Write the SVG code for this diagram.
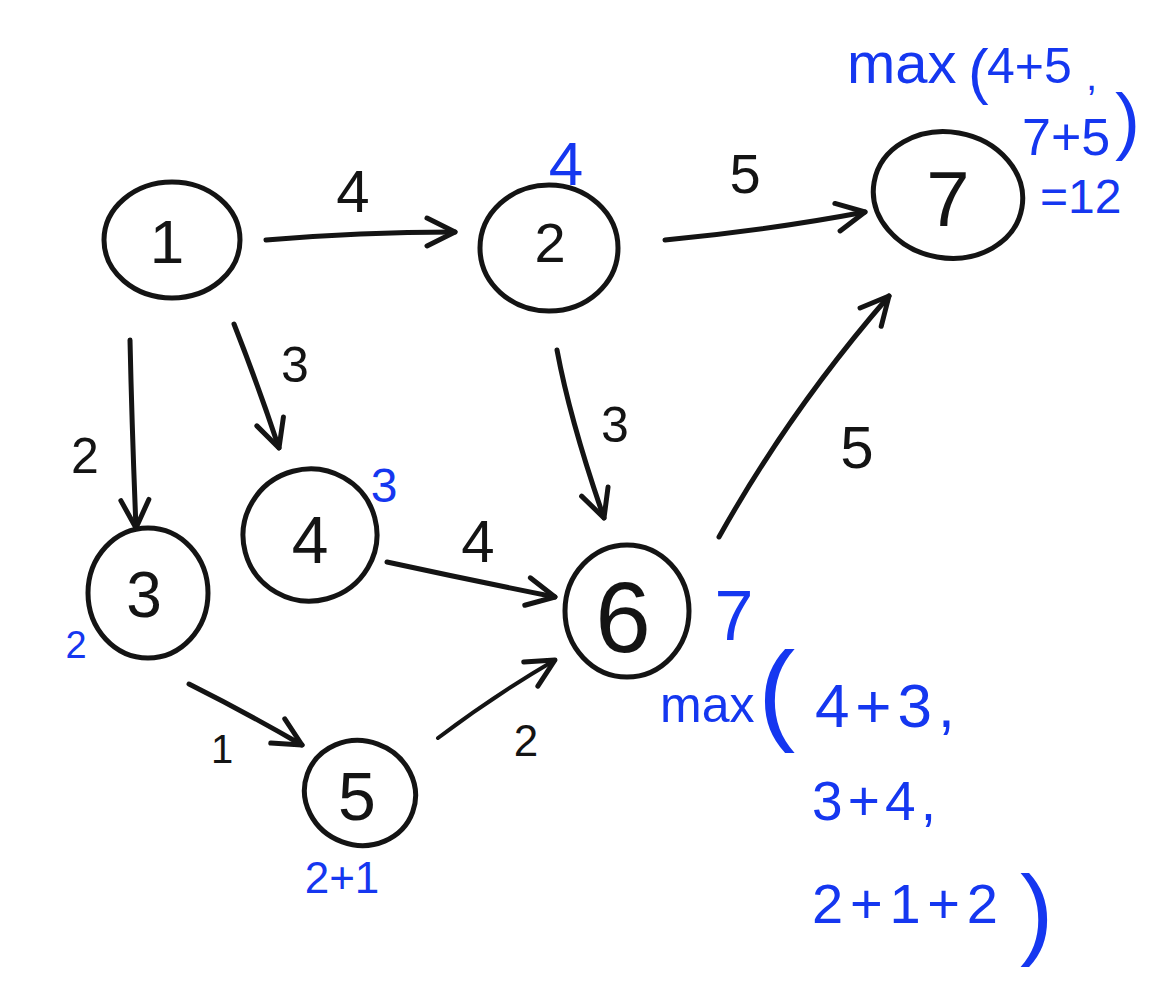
<svg xmlns="http://www.w3.org/2000/svg" width="1167" height="1004" viewBox="0 0 1167 1004">
<style>
.node{fill:none;stroke:#141414;stroke-width:5}
.edge{fill:none;stroke:#141414;stroke-width:5;stroke-linecap:round}
.t{font-family:"Liberation Sans",Arial,sans-serif;fill:#141414;text-anchor:middle}
.b{font-family:"Liberation Sans",Arial,sans-serif;fill:#1537f0}
</style>
<defs>
<marker id="ah" markerUnits="userSpaceOnUse" markerWidth="40" markerHeight="40" viewBox="0 0 40 40" refX="34" refY="20" orient="auto">
<path d="M6,6 L34,20 L6,34" fill="none" stroke="#141414" stroke-width="5" stroke-linecap="round" stroke-linejoin="round"/>
</marker>
</defs>
<rect width="1167" height="1004" fill="#ffffff"/>
<g id="connectors">
<path class="edge" d="M266,240 Q360,232 455,232" marker-end="url(#ah)"/>
<text class="t" x="353" y="212" font-size="60">4</text>
<path class="edge" d="M665,240 Q770,230 865,212" marker-end="url(#ah)"/>
<text class="t" x="745" y="193" font-size="56">5</text>
<path class="edge" d="M130,340 Q132,430 136,528" marker-end="url(#ah)"/>
<text class="t" x="85" y="473" font-size="50">2</text>
<path class="edge" d="M234,324 Q258,385 279,448" marker-end="url(#ah)"/>
<text class="t" x="295" y="382" font-size="50">3</text>
<path class="edge" d="M557,350 Q570,420 604,518" marker-end="url(#ah)"/>
<text class="t" x="615" y="442" font-size="50">3</text>
<path class="edge" d="M719,537 Q790,410 889,296" marker-end="url(#ah)"/>
<text class="t" x="857" y="468" font-size="60">5</text>
<path class="edge" d="M387,562 Q470,580 555,597" marker-end="url(#ah)"/>
<text class="t" x="478" y="562" font-size="60">4</text>
<path class="edge" d="M189,684 Q245,712 302,745" marker-end="url(#ah)"/>
<text class="t" x="222" y="763" font-size="40">1</text>
<path class="edge" d="M438,738 Q495,695 555,660" marker-end="url(#ah)" style="stroke-width:4"/>
<text class="t" x="526" y="756" font-size="44">2</text>
</g>
<g id="node1">
<ellipse class="node" cx="172" cy="240" rx="68" ry="58"/>
<text class="t" x="167" y="263" font-size="62">1</text>
</g>
<g id="node2">
<ellipse class="node" cx="549" cy="248" rx="69" ry="63"/>
<text class="t" x="550" y="262" font-size="56">2</text>
<text class="b" x="566" y="185" font-size="62" text-anchor="middle">4</text>
</g>
<g id="node7">
<ellipse class="node" cx="948" cy="195" rx="75" ry="63" transform="rotate(10 948 195)"/>
<text class="t" x="948" y="226" font-size="78">7</text>
</g>
<g id="node3">
<ellipse class="node" cx="148" cy="593" rx="60" ry="65"/>
<text class="t" x="144" y="617" font-size="64">3</text>
<text class="b" x="76" y="658" font-size="38" text-anchor="middle">2</text>
</g>
<g id="node4">
<ellipse class="node" cx="310" cy="535" rx="67" ry="66" transform="rotate(-15 310 535)"/>
<text class="t" x="310" y="563" font-size="66">4</text>
<text class="b" x="384" y="502" font-size="48" text-anchor="middle">3</text>
</g>
<g id="node6">
<ellipse class="node" cx="627" cy="611" rx="62" ry="66"/>
<text class="t" x="623" y="652" font-size="100">6</text>
<text class="b" x="734" y="640" font-size="70" text-anchor="middle">7</text>
</g>
<g id="node5">
<ellipse class="node" cx="360" cy="793" rx="56" ry="52" transform="rotate(20 360 793)"/>
<text class="t" x="357" y="820" font-size="68">5</text>
<text class="b" x="342" y="893" font-size="44" text-anchor="middle">2+1</text>
</g>
<g id="annotations">
<text class="b" x="847" y="83" font-size="58">max</text>
<text class="b" x="968" y="92" font-size="62">(</text>
<text class="b" x="987" y="83" font-size="50">4+5</text>
<text class="b" x="1086" y="90" font-size="40">,</text>
<text class="b" x="1022" y="155" font-size="52">7+5</text>
<text class="b" x="1115" y="146" font-size="75">)</text>
<text class="b" x="1040" y="213" font-size="48">=12</text>
<text class="b" x="660" y="722" font-size="50">max</text>
<text class="b" x="758" y="730" font-size="112">(</text>
<text class="b" x="815" y="727" font-size="62" textLength="140" lengthAdjust="spacing">4+3,</text>
<text class="b" x="812" y="820" font-size="55" textLength="124" lengthAdjust="spacing">3+4,</text>
<text class="b" x="812" y="923" font-size="56" textLength="186" lengthAdjust="spacing">2+1+2</text>
<text class="b" x="1020" y="946" font-size="100">)</text>
</g>
</svg>
